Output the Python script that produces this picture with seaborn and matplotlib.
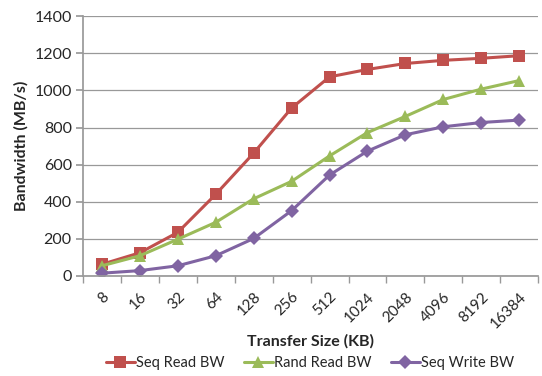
import matplotlib
matplotlib.use("Agg")
import matplotlib.pyplot as plt
import seaborn as sns
import pandas as pd
import numpy as np

sizes = ["8", "16", "32", "64", "128", "256", "512", "1024", "2048", "4096", "8192", "16384"]
seq_read = [63, 125, 235, 440, 662, 905, 1073, 1113, 1145, 1162, 1173, 1187]
rand_read = [55, 109, 198, 289, 416, 510, 647, 773, 860, 951, 1007, 1053]
seq_write = [15, 29, 55, 109, 202, 352, 544, 673, 761, 804, 827, 840]
series_names = ["Seq Read BW", "Rand Read BW", "Seq Write BW"]

sns.set_theme(style="white")
plt.rcParams["font.family"] = ["Lato", "DejaVu Sans"]

df = pd.DataFrame({
    "size": sizes * 3,
    "bw": seq_read + rand_read + seq_write,
    "series": [series_names[0]] * 12 + [series_names[1]] * 12 + [series_names[2]] * 12,
})

colors = ["#C0504D", "#9BBB59", "#8064A2"]
markers = ["s", "^", "D"]
msizes = [9, 9, 7.5]

fig = plt.figure(figsize=(5.42, 3.76), dpi=100)
ax = fig.add_axes([0.153, 0.266, 0.840, 0.691])

for name, c, m, ms in zip(series_names, colors, markers, msizes):
    sub = df[df["series"] == name]
    sns.lineplot(data=sub, x="size", y="bw", ax=ax, color=c, marker=m,
                 markersize=ms, markeredgewidth=0, linewidth=2.2, sort=False,
                 label=name, legend=False)

ax.set_xlim(-0.5, 11.5)
ax.set_ylim(0, 1400)
ax.set_yticks(np.arange(0, 1401, 200))
ax.yaxis.grid(True, color="#999999", linewidth=0.9)
ax.set_axisbelow(True)
for s in ["top", "right"]:
    ax.spines[s].set_visible(False)
ax.spines["left"].set_color("#999999")
ax.spines["bottom"].set_color("#999999")

ax.set_xticks(range(12))
ax.set_xticklabels(sizes, rotation=45, ha="right", rotation_mode="anchor", fontsize=11, color="#262626")
ax.set_xticks(np.arange(-0.5, 12, 1), minor=True)
ax.tick_params(axis="x", which="major", length=0, pad=10)
ax.tick_params(axis="x", which="minor", length=5, color="#999999", direction="out", bottom=True)
ax.tick_params(axis="y", labelsize=11.5, labelcolor="#262626", length=5, color="#999999", left=True, direction="out", pad=3)

ax.set_xlabel("Transfer Size (KB)", fontsize=11.5, fontweight="bold", labelpad=2)
ax.set_ylabel("Bandwidth (MB/s)", fontsize=11.5, fontweight="bold", labelpad=4)

handles, labels = ax.get_legend_handles_labels()
fig.legend(handles, labels, loc="lower center", bbox_to_anchor=(0.572, -0.02), ncol=3,
           frameon=False, fontsize=10.5, handlelength=2.0, columnspacing=1.3, handletextpad=0.1)

fig.savefig("out.png", dpi=100)
